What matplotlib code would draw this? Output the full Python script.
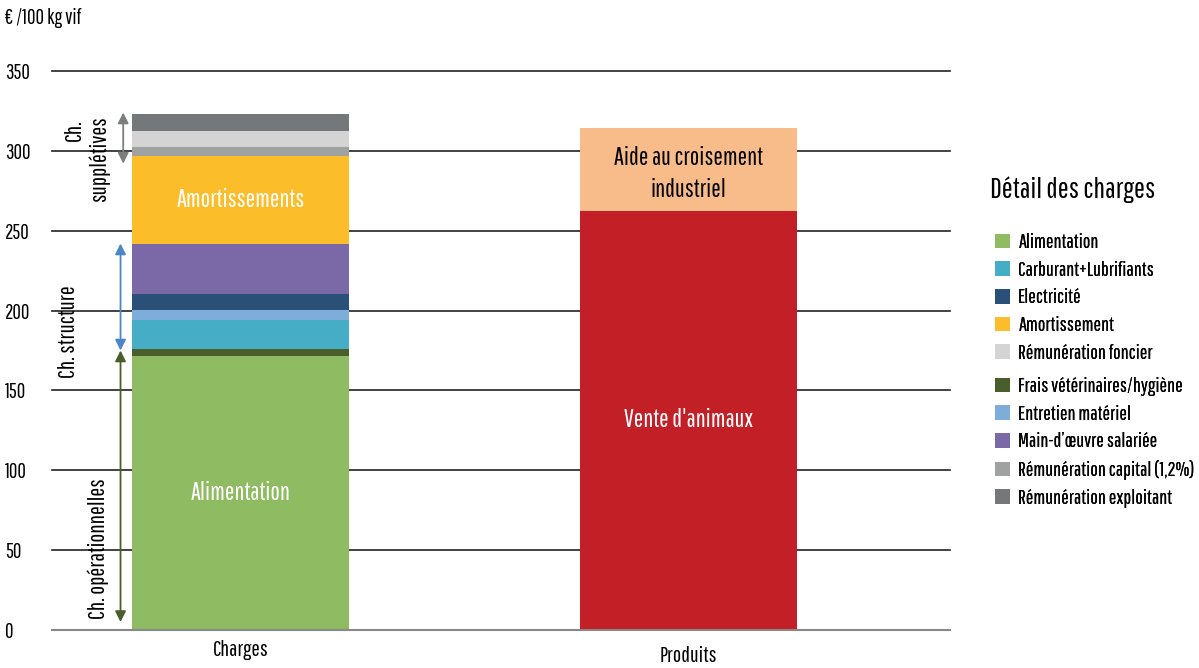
import matplotlib
matplotlib.use("Agg")
import matplotlib.pyplot as plt
from matplotlib.patches import Patch

plt.rcParams['font.family'] = ['Pathway Gothic One', 'DejaVu Sans']

categories = ["Charges", "Produits"]

charge_names = ["Alimentation", "Frais vétérinaires/hygiène", "Carburant+Lubrifiants",
                "Entretien matériel", "Electricité", "Main-d\u2019œuvre salariée",
                "Amortissement", "Rémunération capital (1,2%)", "Rémunération foncier",
                "Rémunération exploitant"]
charge_values = [171.7, 4.3, 18.1, 6.3, 10.0, 31.3, 55.3, 5.6, 9.9, 10.6]
charge_colors = ["#8fbc62", "#4a5e2c", "#45aec6", "#7fadd9", "#2a5078", "#7b68a6",
                 "#fcbd2b", "#a0a2a2", "#d3d4d3", "#75787b"]

product_names = ["Vente d'animaux", "Aide au croisement\nindustriel"]
product_values = [262.6, 52.0]
product_colors = ["#c21f26", "#f8bb8a"]

legend_group1 = ["Alimentation", "Carburant+Lubrifiants", "Electricité", "Amortissement",
                 "Rémunération foncier"]
legend_group2 = ["Frais vétérinaires/hygiène", "Entretien matériel",
                 "Main-d\u2019œuvre salariée", "Rémunération capital (1,2%)", "Rémunération exploitant"]

yticks = [0, 50, 100, 150, 200, 250, 300, 350]

fig = plt.figure(figsize=(11.99, 6.68), dpi=100)
ax = fig.add_axes([52/1199, 38/668, (950-52)/1199, (630-71)/668])
W = 0.484

for y in yticks[1:]:
    ax.axhline(y, color="#222222", lw=1.2, zorder=0, clip_on=False)

bottom = 0
for v, c in zip(charge_values, charge_colors):
    ax.bar(0, v, W, bottom=bottom, color=c, zorder=2)
    bottom += v
bottom = 0
for v, c in zip(product_values, product_colors):
    ax.bar(1, v, W, bottom=bottom, color=c, zorder=2)
    bottom += v

ax.set_xlim(-0.421, 1.584)
ax.set_ylim(0, 350)
for s in ["top", "right", "left"]:
    ax.spines[s].set_visible(False)
ax.spines["bottom"].set_color("#888888")
ax.spines["bottom"].set_linewidth(1.5)
ax.set_yticks(yticks)
ax.set_yticklabels([str(t) for t in yticks], fontsize=15)
ax.tick_params(axis="y", length=0, pad=0)
for t in ax.get_yticklabels():
    t.set_horizontalalignment("left")
    t.set_x(-0.052)
ax.set_xticks([0, 1])
ax.set_xticklabels(categories, fontsize=16)
ax.tick_params(axis="x", length=0, pad=7)
lbls = ax.get_xticklabels()
lbls[1].set_y(-0.012)

# labels inside bars
ax.text(0, charge_values[0] / 2, "Alimentation", color="white", fontsize=18, ha="center", va="center", zorder=3)
amo_bottom = sum(charge_values[:6])
ax.text(0, amo_bottom + charge_values[6] / 2, "Amortissements", color="white", fontsize=18, ha="center", va="center", zorder=3)
ax.text(1, product_values[0] / 2, product_names[0], color="white", fontsize=18, ha="center", va="center", zorder=3)
ax.text(1, product_values[0] + product_values[1] / 2 - 3, product_names[1], color="black", fontsize=18,
        ha="center", va="center", zorder=3, linespacing=1.45)

# brackets
def darrow(x, y0, y1, col):
    ax.annotate("", xy=(x, y0), xytext=(x, y1),
                arrowprops=dict(arrowstyle="<|-|>", color=col, lw=1.3, mutation_scale=16,
                                shrinkA=0, shrinkB=0), annotation_clip=False)

xa = -0.262
darrow(xa, 292, 324, "#7b7d80")
darrow(xa - 0.006, 175, 242, "#4a86c8")
darrow(xa - 0.006, 5, 175, "#4a5e2c")

ax.text(-0.37, 313, "Ch.", rotation=90, fontsize=17, ha="center", va="center")
ax.text(-0.315, 295, "supplétives", rotation=90, fontsize=17, ha="center", va="center")
ax.text(-0.385, 187, "Ch. structure", rotation=90, fontsize=17, ha="center", va="center")
ax.text(-0.318, 51, "Ch. opérationnelles", rotation=90, fontsize=17, ha="center", va="center")

fig.text(5/1199, 1 - 18/668, "€ /100 kg vif", fontsize=15, ha="left", va="center")

# legend
cmap = dict(zip(charge_names, charge_colors))
fig.text(1073/1199, 1 - 190/668, "Détail des charges", fontsize=21, ha="center", va="center")
for grp, top in ((legend_group1, 225), (legend_group2, 369)):
    handles = [Patch(facecolor=cmap[n], label=n) for n in grp]
    leg = fig.legend(handles=handles, loc="upper left", bbox_to_anchor=(987/1199, 1 - top/668),
                     frameon=False, fontsize=14.5, handlelength=0.75, handleheight=0.75,
                     handletextpad=0.4, labelspacing=0.43, borderaxespad=0)
    fig.add_artist(leg)

fig.savefig("out.png", dpi=100)
